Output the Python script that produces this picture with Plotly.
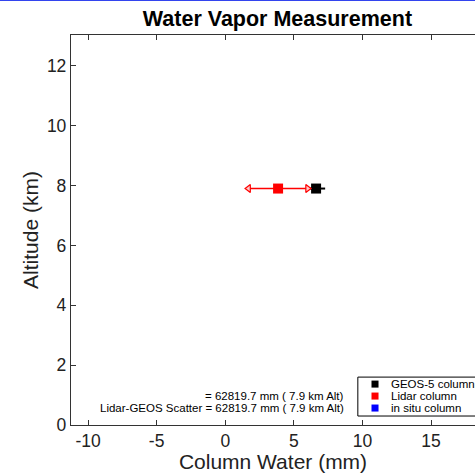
import plotly.graph_objects as go

# Column water retrievals at the aircraft altitude
altitude_km = [7.9]
geos_col = [6.62]
geos_err = [0.66]
lidar_col = [3.85]
lidar_err = [2.15]

x_ticks = [-10, -5, 0, 5, 10, 15]
x_tick_text = ["-10", "-5", "0", "5", "10", "15"]
y_ticks = [0, 2, 4, 6, 8, 10, 12]

series_names = ["GEOS-5 column", "Lidar column", "in situ column"]
series_colors = ["black", "red", "blue"]

stat_lines = ["= 62819.7 mm ( 7.9 km Alt)",
              "Lidar-GEOS Scatter = 62819.7 mm ( 7.9 km Alt)"]

FONT = "Liberation Sans, Arial, Helvetica, sans-serif"

fig = go.Figure()

# GEOS-5 column with its spread
fig.add_trace(go.Scatter(
    x=geos_col, y=altitude_km, mode="markers", name=series_names[0],
    marker=dict(symbol="square", size=10, color=series_colors[0]),
    error_x=dict(type="data", array=geos_err, color="black", thickness=2, width=0),
))

# Lidar column with arrow-tipped spread
fig.add_trace(go.Scatter(
    x=lidar_col, y=altitude_km, mode="markers", name=series_names[1],
    marker=dict(symbol="square", size=10, color=series_colors[1]),
    error_x=dict(type="data", array=lidar_err, color="red", thickness=1.6, width=0),
))
fig.add_trace(go.Scatter(
    x=[lidar_col[0] - lidar_err[0], lidar_col[0] + lidar_err[0]],
    y=[altitude_km[0], altitude_km[0]], mode="markers",
    marker=dict(symbol=["triangle-left", "triangle-right"], size=7,
                color="rgba(255,200,200,1)", line=dict(color="red", width=1.2)),
))

# In situ column (no samples at this level)
fig.add_trace(go.Scatter(
    x=[None], y=[None], mode="markers", name=series_names[2],
    marker=dict(symbol="square", size=10, color=series_colors[2]),
))

for i, txt in enumerate(stat_lines):
    fig.add_annotation(
        x=0.681, xref="paper", xanchor="right",
        y=0.0742 - i * 0.0307, yref="paper", yanchor="middle",
        text=txt, showarrow=False,
        font=dict(family=FONT, size=11.5, color="black"),
    )

# Compact key in the lower right corner
fig.add_shape(type="rect", xref="paper", yref="paper",
              x0=0.710, x1=1.05, y0=0.023, y1=0.1228,
              line=dict(color="black", width=1), fillcolor="white", layer="above")
for i, (name, col) in enumerate(zip(series_names, series_colors)):
    yc = 0.1049 - i * 0.0307
    fig.add_shape(type="rect", xref="paper", yref="paper",
                  x0=0.7525 - 0.0087, x1=0.7525 + 0.0087,
                  y0=yc - 0.009, y1=yc + 0.009,
                  line=dict(width=0), fillcolor=col, layer="above")
    fig.add_annotation(x=0.787, xref="paper", xanchor="left",
                       y=yc, yref="paper", yanchor="middle",
                       text=name, showarrow=False,
                       font=dict(family=FONT, size=11.5, color="black"))

# Thin blue rule across the top of the page
fig.add_shape(type="line", xref="paper", yref="paper",
              x0=-0.2, x1=1.2, y0=1.0895, y1=1.0895,
              line=dict(color="#3344ee", width=2))

axis_common = dict(
    showgrid=False, zeroline=False, showline=True, linecolor="#333",
    linewidth=1.3, ticks="inside", ticklen=5, tickcolor="#333",
    tickfont=dict(family=FONT, size=17.5, color="#222"),
    title_font=dict(family=FONT, size=21, color="#222"),
)

fig.update_xaxes(range=[-11.24, 18.2], tickvals=x_ticks, ticktext=x_tick_text,
                 title_text="Column Water (mm)", title_standoff=1,
                 mirror="ticks", **axis_common)
fig.update_yaxes(range=[0, 13.03], tickvals=y_ticks,
                 title_text="Altitude (km)", title_standoff=2,
                 **axis_common)

fig.update_layout(
    width=475, height=473,
    margin=dict(l=71, r=0, t=35, b=48),
    paper_bgcolor="white", plot_bgcolor="white",
    title=dict(text="<b>Water Vapor Measurement</b>", xref="paper", x=0.511,
               xanchor="center", y=0.96, yanchor="middle",
               font=dict(family=FONT, size=21.5, color="black")),
    showlegend=False,
)

fig.write_html("out.html")
